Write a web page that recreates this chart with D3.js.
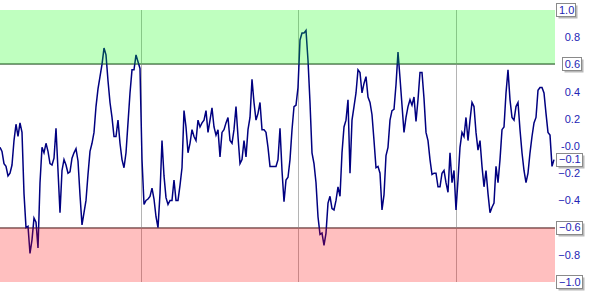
<!DOCTYPE html>
<html>
<head>
<meta charset="utf-8">
<script src="https://cdn.jsdelivr.net/npm/d3@7"></script>
<style>
  body { margin: 0; background: #fff; }
  text { font-family: Arial, "Liberation Sans", sans-serif; font-size: 11px; }
</style>
</head>
<body>
<div id="chart"></div>
<script>
'use strict';

// oscillator samples, one every step
const values = [
  -0.01, -0.04, -0.13, -0.15, -0.22, -0.20, -0.14, 0.04, 0.16, 0.07,
  0.17, 0.10, -0.35, -0.60, -0.59, -0.79, -0.69, -0.53, -0.56, -0.75,
  -0.27, -0.01, -0.05, 0.02, -0.04, -0.13, -0.14, -0.09, 0.13, -0.18,
  -0.49, -0.18, -0.10, -0.14, -0.20, -0.19, -0.09, -0.05, -0.02, -0.11,
  -0.36, -0.58, -0.49, -0.40, -0.21, -0.04, 0.02, 0.10, 0.29, 0.42,
  0.51, 0.60, 0.72, 0.67, 0.48, 0.32, 0.21, 0.07, 0.07, 0.19,
  0.02, -0.10, -0.16, -0.05, 0.17, 0.39, 0.56, 0.56, 0.67, 0.62,
  0.57, -0.10, -0.43, -0.40, -0.39, -0.37, -0.31, -0.39, -0.52, -0.60,
  -0.35, 0.04, -0.22, -0.38, -0.43, -0.40, -0.40, -0.25, -0.40, -0.40,
  -0.29, -0.16, 0.26, 0.14, -0.05, 0.02, 0.12, 0.07, 0.04, 0.19,
  0.14, 0.17, 0.19, 0.26, 0.10, 0.19, 0.28, 0.14, 0.08, 0.12,
  -0.08, 0.10, 0.12, 0.17, 0.21, 0.04, 0.02, 0.12, 0.29, 0.07,
  -0.13, -0.10, 0.04, -0.08, 0.12, 0.21, 0.49, 0.32, 0.19, 0.24,
  0.32, 0.12, 0.12, 0.10, -0.01, -0.15, -0.15, -0.15, -0.15, -0.10,
  0.13, -0.18, -0.41, -0.25, -0.23, -0.10, 0.12, 0.29, 0.30, 0.43,
  0.78, 0.83, 0.83, 0.85, 0.63, 0.32, -0.05, -0.13, -0.27, -0.52,
  -0.65, -0.64, -0.73, -0.64, -0.42, -0.37, -0.46, -0.47, -0.40, -0.30,
  -0.37, -0.05, 0.14, 0.19, 0.34, -0.20, 0.19, 0.29, 0.39, 0.56,
  0.54, 0.39, 0.46, 0.51, 0.36, 0.32, 0.23, 0.04, -0.16, -0.15,
  -0.20, -0.47, -0.36, -0.07, -0.01, 0.19, 0.26, 0.27, 0.45, 0.69,
  0.50, 0.30, 0.10, 0.21, 0.29, 0.34, 0.30, 0.36, 0.18, 0.34,
  0.54, 0.54, 0.35, 0.10, 0.04, -0.10, -0.21, -0.20, -0.20, -0.30,
  -0.30, -0.20, -0.18, -0.27, -0.34, -0.05, -0.27, -0.18, -0.47, -0.25,
  -0.01, 0.10, 0.07, 0.21, 0.04, 0.19, 0.32, 0.29, 0.10, -0.03,
  0.04, -0.15, -0.30, -0.18, -0.35, -0.49, -0.45, -0.42, -0.15, -0.27,
  -0.10, 0.12, 0.14, 0.39, 0.56, 0.34, 0.21, 0.19, 0.29, 0.32,
  0.12, -0.05, -0.18, -0.27, -0.20, -0.05, 0.07, 0.17, 0.21, 0.41,
  0.43, 0.43, 0.39, 0.24, 0.10, 0.08, -0.15, -0.10
];

const yTicks = [1.0, 0.8, 0.6, 0.4, 0.2, 0, -0.2, -0.4, -0.6, -0.8, -1.0];
const upperZone = [0.6, 1.0];
const lowerZone = [-1.0, -0.6];
const gridAt = [70.5, 148.75, 228];   // sample index of the vertical separators

const W = 600, H = 292;
const plot = {left: 0, right: 555, top: 10, bottom: 282};

const svg = d3.select('#chart').append('svg')
    .attr('width', W)
    .attr('height', H);

svg.append('rect').attr('width', W).attr('height', H).attr('fill', '#fff');

const x = d3.scaleLinear().domain([0, values.length - 1]).range([plot.left, plot.right - 1]);
const y = d3.scaleLinear().domain([-1, 1]).range([plot.bottom, plot.top]);

// vertical separators
svg.append('g')
  .selectAll('line')
  .data(gridAt)
  .join('line')
    .attr('x1', d => Math.round(x(d)) + 0.5)
    .attr('x2', d => Math.round(x(d)) + 0.5)
    .attr('y1', plot.top)
    .attr('y2', plot.bottom)
    .attr('stroke', '#b4b4b4')
    .attr('stroke-width', 1);

// zone edges
svg.append('g')
  .selectAll('line')
  .data([upperZone[0], lowerZone[1]])
  .join('line')
    .attr('x1', plot.left)
    .attr('x2', plot.right)
    .attr('y1', d => Math.round(y(d)))
    .attr('y2', d => Math.round(y(d)))
    .attr('stroke', '#8c8c8c')
    .attr('stroke-width', 2);

const line = d3.line()
    .x((d, i) => x(i))
    .y(d => y(d));

svg.append('path')
    .datum(values)
    .attr('d', line)
    .attr('fill', 'none')
    .attr('stroke', '#000080')
    .attr('stroke-width', 1.5);

// translucent zones on top of the line
svg.append('rect')
    .attr('x', plot.left)
    .attr('width', plot.right - plot.left)
    .attr('y', y(upperZone[1]))
    .attr('height', y(upperZone[0]) - y(upperZone[1]))
    .attr('fill', 'rgb(0,255,0)')
    .attr('fill-opacity', 0.25);

svg.append('rect')
    .attr('x', plot.left)
    .attr('width', plot.right - plot.left)
    .attr('y', y(lowerZone[1]))
    .attr('height', y(lowerZone[0]) - y(lowerZone[1]))
    .attr('fill', 'rgb(255,0,0)')
    .attr('fill-opacity', 0.25);

// right axis
const fmt = d => d === 0 ? '-0.0' : d3.format('.1f')(d);
const boxed = [upperZone[1], upperZone[0], lowerZone[1], lowerZone[0]];

const axis = svg.append('g')
    .attr('transform', `translate(${plot.right},0)`)
    .call(d3.axisRight(y).tickValues(yTicks.filter(v => !boxed.includes(v))).tickFormat(fmt).tickSize(0))
    .call(g => g.select('.domain').remove());

axis.selectAll('text')
    .attr('x', 25)
    .attr('text-anchor', 'end')
    .attr('fill', '#2424b4')
    .style('font-size', '11px')
    .style('font-family', 'Arial, "Liberation Sans", sans-serif');

// boxed labels: zone limits and last value
function boxLabel(v, anchorEnd) {
  const g = svg.append('g');
  const t = g.append('text')
      .attr('x', anchorEnd ? plot.right + 25 : plot.right + 4)
      .attr('y', y(v))
      .attr('dy', '0.35em')
      .attr('text-anchor', anchorEnd ? 'end' : 'start')
      .attr('fill', '#2424b4')
      .text(fmt(v));
  const b = t.node().getBBox();
  const bx = Math.round(b.x) - 2.5, by = Math.round(y(v)) - 6.5, bw = Math.round(b.width) + 4, bh = 13;
  g.insert('rect', 'text')
      .attr('x', bx + 2).attr('y', by + 2).attr('width', bw).attr('height', bh)
      .attr('fill', '#9a9a9a').attr('opacity', 0.7);
  g.insert('rect', 'text')
      .attr('x', bx).attr('y', by).attr('width', bw).attr('height', bh)
      .attr('fill', '#fff').attr('stroke', '#8a8a8a');
}

boxLabel(1.0, false);
boxLabel(0.6, true);
boxLabel(-0.6, false);
boxLabel(-1.0, false);
boxLabel(values[values.length - 1], false);
</script>
</body>
</html>
